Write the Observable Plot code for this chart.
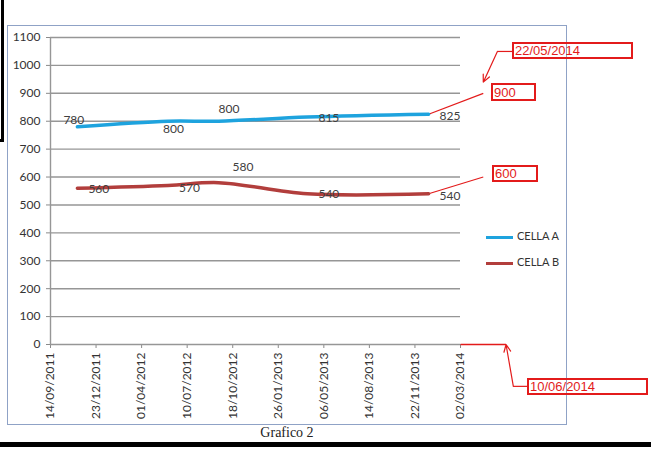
<!DOCTYPE html>
<html>
<head>
<meta charset="utf-8">
<script src="https://cdn.jsdelivr.net/npm/d3@7"></script>
<script src="https://cdn.jsdelivr.net/npm/@observablehq/plot@0.6"></script>
<style>
  html, body { margin: 0; padding: 0; background: #fff; }
  #page { position: relative; width: 651px; height: 450px; overflow: hidden; font-family: Lato, sans-serif; }
  #page svg { position: absolute; left: 0; top: 0; }
  .abs { position: absolute; box-sizing: border-box; }
  .note { border: 2px solid #e31b1b; color: #e31b1b; font-family: "Liberation Sans", Arial, sans-serif; font-size: 13px; padding-left: 1px; white-space: nowrap; display: flex; align-items: center; }
  .leg { font-family: Lato, sans-serif; font-size: 11px; color: #333; white-space: nowrap; }
  svg [aria-label$="axis tick"] { stroke: #8a8a8a; }
  svg .tick line { stroke: #8a8a8a; }
</style>
</head>
<body>
<div id="page">
  <div class="abs" style="left:-20px;top:-5px;width:24px;height:147px;border-right:3px solid #000;border-bottom:3px solid #000;"></div>
  <div class="abs" style="left:7px;top:25px;width:560px;height:400px;border:1.5px solid #8fa2c6;"></div>
  <div class="abs" style="left:0;top:442px;width:651px;height:5px;background:#000;"></div>
  <div id="chart"></div>
  <div class="abs" style="left:486px;top:235.5px;width:27px;height:3.5px;background:#1ea3de;"></div>
  <div class="abs leg" style="left:517px;top:229px;">CELLA A</div>
  <div class="abs" style="left:486px;top:261.5px;width:27px;height:3.5px;background:#b23e3c;"></div>
  <div class="abs leg" style="left:517px;top:255px;">CELLA B</div>
  <div class="abs note" style="left:512px;top:42px;width:121px;height:17px;">22/05/2014</div>
  <div class="abs note" style="left:491px;top:83px;width:45px;height:18px;">900</div>
  <div class="abs note" style="left:492px;top:165px;width:46px;height:17px;">600</div>
  <div class="abs note" style="left:527px;top:378px;width:121px;height:17px;">10/06/2014</div>
  <div class="abs" style="left:0;width:574px;top:425px;text-align:center;font-family:'Liberation Serif','Times New Roman',serif;font-size:14px;color:#222;">Grafico 2</div>
</div>
<script>
// ---- data ----
const dates = ["2011-11-12", "2012-05-29", "2012-09-17", "2013-03-31", "2013-12-22"];
const cellaA = [780, 800, 800, 815, 825];
const cellaB = [560, 570, 580, 540, 540];
const xTickLabels = ["14/09/2011", "23/12/2011", "01/04/2012", "10/07/2012", "18/10/2012",
                     "26/01/2013", "06/05/2013", "14/08/2013", "22/11/2013", "02/03/2014"];
const yTicks = [0, 100, 200, 300, 400, 500, 600, 700, 800, 900, 1000, 1100];
// annotations (dates / values)
const targetDate = "2014-04-21";
const targetA = 900, targetB = 600;
const noteDate1 = "2014-05-22", noteBoxDate1 = "2014-06-24", noteValue1 = 1050, noteTipValue1 = 940;
const noteDate2 = "2014-06-10", noteElbowDate2 = "2014-06-26", noteBoxDate2 = "2014-07-27", noteValue2 = -150;

// label offsets (layout only)
const offA = [[-14, -7], [-5, 8], [0, -12], [11, 1], [11, 2]];
const offB = [[11, 1], [11, 3], [14, -15], [11, 0], [11, 2]];

const parseIso = d3.utcParse("%Y-%m-%d");
const parseDmy = d3.utcParse("%d/%m/%Y");
const xTicks = xTickLabels.map(parseDmy);
const A = dates.map((d, i) => ({date: parseIso(d), value: cellaA[i]}));
const B = dates.map((d, i) => ({date: parseIso(d), value: cellaB[i]}));
const blue = "#1ea3de", red = "#b23e3c", note = "#e31b1b";
const lastA = A[A.length - 1], lastB = B[B.length - 1];

const labelMarks = [];
A.forEach((d, i) => labelMarks.push(Plot.text([d], {x: "date", y: "value", text: d => String(d.value), textAnchor: "start", dx: offA[i][0], dy: offA[i][1], fill: "#404040", fontSize: 12})));
B.forEach((d, i) => labelMarks.push(Plot.text([d], {x: "date", y: "value", text: d => String(d.value), textAnchor: "start", dx: offB[i][0], dy: offB[i][1], fill: "#404040", fontSize: 12})));

const chart = Plot.plot({
  width: 651,
  height: 450,
  marginLeft: 50,
  marginRight: 191,
  marginTop: 37,
  marginBottom: 106,
  style: {fontFamily: "Lato, sans-serif", fontSize: "12px", color: "#333", background: "transparent", overflow: "visible"},
  x: {type: "utc", domain: [xTicks[0], xTicks[xTicks.length - 1]], ticks: xTicks, tickFormat: d3.utcFormat("%d/%m/%Y"), tickRotate: -90, tickSize: 4, tickPadding: 4, label: null},
  y: {domain: [0, 1100], ticks: yTicks, tickFormat: d => String(d), tickSize: 4, tickPadding: 6, label: null},
  marks: [
    Plot.ruleY(yTicks, {stroke: "#969696", strokeWidth: 1.4}),
    Plot.ruleX([xTicks[0]], {y1: 0, y2: 1100, stroke: "#969696", strokeWidth: 1.4}),
    // annotation connectors
    Plot.link([{}], {x1: () => xTicks[xTicks.length - 1], x2: () => parseIso(noteDate2), y1: () => 0, y2: () => 0, stroke: note, strokeWidth: 1.3}),
    Plot.link([{}], {x1: () => lastA.date, y1: () => lastA.value, x2: () => parseIso(targetDate), y2: () => targetA, stroke: note, strokeWidth: 1.2}),
    Plot.link([{}], {x1: () => lastB.date, y1: () => lastB.value, x2: () => parseIso(targetDate), y2: () => targetB, stroke: note, strokeWidth: 1.2}),
    Plot.link([{}], {x1: () => parseIso(noteBoxDate1), y1: () => noteValue1, x2: () => parseIso(noteDate1), y2: () => noteValue1, stroke: note, strokeWidth: 1.2}),
    Plot.arrow([{}], {x1: () => parseIso(noteDate1), y1: () => noteValue1, x2: () => parseIso(targetDate), y2: () => noteTipValue1, stroke: note, strokeWidth: 1.2, headLength: 10, headAngle: 50}),
    Plot.link([{}], {x1: () => parseIso(noteBoxDate2), y1: () => noteValue2, x2: () => parseIso(noteElbowDate2), y2: () => noteValue2, stroke: note, strokeWidth: 1.2}),
    Plot.arrow([{}], {x1: () => parseIso(noteElbowDate2), y1: () => noteValue2, x2: () => parseIso(noteDate2), y2: () => 0, stroke: note, strokeWidth: 1.2, headLength: 10, headAngle: 50}),
    // series
    Plot.line(A, {x: "date", y: "value", curve: "catmull-rom", stroke: blue, strokeWidth: 3.5}),
    Plot.line(B, {x: "date", y: "value", curve: "catmull-rom", stroke: red, strokeWidth: 3.5}),
    ...labelMarks
  ]
});
document.getElementById("chart").appendChild(chart);
</script>
</body>
</html>
